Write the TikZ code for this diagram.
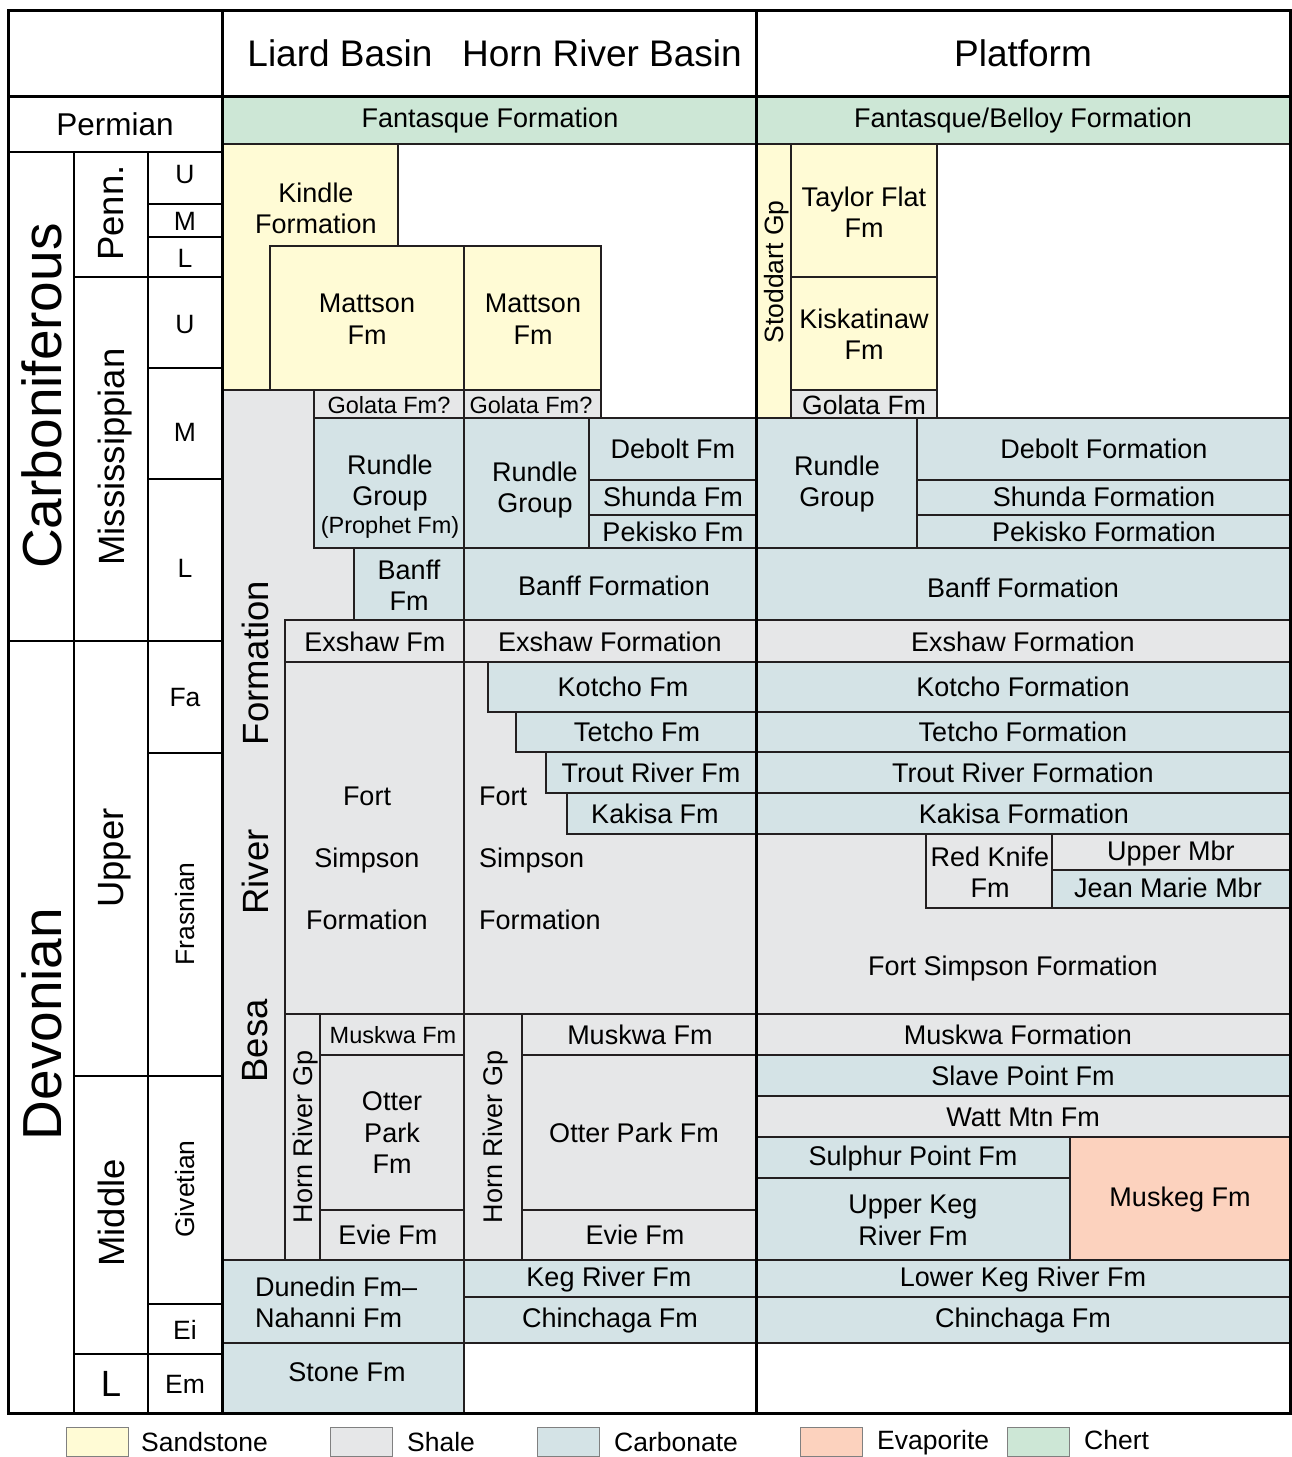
\documentclass[tikz,border=0pt]{standalone}
\usepackage{fontspec}
\setmainfont{Liberation Sans}
\definecolor{sandclr}{HTML}{FFFBD5}
\definecolor{shaleclr}{HTML}{E6E7E8}
\definecolor{carbclr}{HTML}{D4E3E6}
\definecolor{evapclr}{HTML}{FCD2BE}
\definecolor{chertclr}{HTML}{CDE7D6}
\definecolor{lineclr}{HTML}{231F20}

\begin{document}
\begin{tikzpicture}[x=1pt,y=-1pt]
  \tikzset{
  unit/.style={draw=lineclr,line width=1.5pt},
  sand/.style={unit,fill=sandclr},
  shale/.style={unit,fill=shaleclr},
  carb/.style={unit,fill=carbclr},
  evap/.style={unit,fill=evapclr},
  chert/.style={unit,fill=chertclr},
  rule/.style={line width=2pt},
  frame/.style={line width=3pt},
  lab/.style={font=\fontsize{27}{31.5}\selectfont,align=center,inner sep=0pt,text depth=0pt},
  tiny/.style={font=\fontsize{23.5}{28}\selectfont,inner sep=0pt,text depth=0pt},
  head/.style={font=\fontsize{37}{44}\selectfont,inner sep=0pt,text depth=0pt},
  era/.style={font=\fontsize{55}{60}\selectfont,rotate=90,inner sep=0pt,text depth=0pt},
  epoch/.style={font=\fontsize{36.5}{40}\selectfont,inner sep=0pt,text depth=0pt},
  stage/.style={font=\fontsize{26.5}{30}\selectfont,inner sep=0pt,text depth=0pt},
  key/.style={draw=gray,line width=1pt},
  }
  \useasboundingbox[fill=white] (0,0) rectangle (1291,1457);

  % header
  \node[head] (liard) at (340,53) {Liard Basin};
  \node[head] (hornriver) at (602,53) {Horn River Basin};
  \node[head] (platform) at (1023,53) {Platform};

  % chert at the top
  \draw[chert] (222,96) rectangle (756,144);
  \draw[chert] (756,96) rectangle (1290,144);
  \node[lab] (fantasque) at (490,118) {Fantasque Formation};
  \node[lab] (belloy) at (1023,118) {Fantasque/Belloy Formation};

  % Liard Basin
  \draw[sand] (222,144) -- (398,144) -- (398,246) -- (270,246) -- (270,390) -- (222,390) -- cycle;
  \draw[sand] (270,246) rectangle (464,390);
  \draw[shale] (222,390) -- (314,390) -- (314,548) -- (354,548) -- (354,620) -- (285,620) -- (285,1260) -- (222,1260) -- cycle;
  \draw[shale] (314,390) rectangle (464,418);
  \draw[carb] (314,418) rectangle (464,548);
  \draw[carb] (354,548) rectangle (464,620);
  \draw[shale] (285,620) rectangle (464,662);
  \draw[shale] (285,662) rectangle (464,1014);
  \draw[shale] (285,1014) rectangle (320,1260);
  \draw[shale] (320,1014) rectangle (464,1055);
  \draw[shale] (320,1055) rectangle (464,1210);
  \draw[shale] (320,1210) rectangle (464,1260);
  \draw[carb] (222,1260) rectangle (464,1343);
  \draw[carb] (222,1343) rectangle (464,1413);

  \node[lab] (kindle) at (316,208) {Kindle\\Formation};
  \node[lab] (mattsonL) at (367,319) {Mattson\\Fm};
  \node[tiny] (golataL) at (389,405) {Golata Fm?};
  \node[lab] (rundleL) at (390,480) {Rundle\\Group};
  \node[tiny] (prophet) at (390,525) {(Prophet Fm)};
  \node[lab] (banffL) at (409,585) {Banff\\Fm};
  \node[lab] (exshawL) at (375,642) {Exshaw Fm};
  \node[lab,font=\fontsize{27}{62}\selectfont] (simpsonL) at (367,858) {Fort\\Simpson\\Formation};
  \node[epoch,rotate=90] (besaC) at (255,663) {Formation};
  \node[epoch,rotate=90] (besaB) at (255,872) {River};
  \node[epoch,rotate=90] (besaA) at (255,1041) {Besa};
  \node[lab,rotate=90] (hrgL) at (303,1137) {Horn River Gp};
  \node[tiny] (muskwaL) at (393,1035) {Muskwa Fm};
  \node[lab] (otterL) at (392,1133) {Otter\\Park\\Fm};
  \node[lab] (evieL) at (388,1235) {Evie Fm};
  \node[lab,align=left,anchor=west] (dunedin) at (255,1302) {Dunedin Fm--\\Nahanni Fm};
  \node[lab] (stone) at (347,1372) {Stone Fm};

  % Horn River Basin
  \draw[sand] (464,246) rectangle (601,390);
  \draw[shale] (464,390) rectangle (601,418);
  \draw[carb] (464,418) rectangle (589,548);
  \draw[carb] (589,418) rectangle (756,480);
  \draw[carb] (589,480) rectangle (756,515);
  \draw[carb] (589,515) rectangle (756,548);
  \draw[carb] (464,548) rectangle (756,620);
  \draw[shale] (464,620) rectangle (756,662);
  \draw[shale] (464,662) rectangle (756,1014);
  \draw[carb] (488,662) rectangle (756,712);
  \draw[carb] (516,712) rectangle (756,752);
  \draw[carb] (546,752) rectangle (756,793);
  \draw[carb] (567,793) rectangle (756,834);
  \draw[shale] (464,1014) rectangle (522,1260);
  \draw[shale] (522,1014) rectangle (756,1055);
  \draw[shale] (522,1055) rectangle (756,1210);
  \draw[shale] (522,1210) rectangle (756,1260);
  \draw[carb] (464,1260) rectangle (756,1297);
  \draw[carb] (464,1297) rectangle (756,1343);

  \node[lab] (mattsonH) at (533,319) {Mattson\\Fm};
  \node[tiny] (golataH) at (531,405) {Golata Fm?};
  \node[lab] (rundleH) at (535,487) {Rundle\\Group};
  \node[lab] (deboltH) at (673,449) {Debolt Fm};
  \node[lab] (shundaH) at (673,497) {Shunda Fm};
  \node[lab] (pekiskoH) at (673,532) {Pekisko Fm};
  \node[lab] (banffH) at (614,586) {Banff Formation};
  \node[lab] (exshawH) at (610,642) {Exshaw Formation};
  \node[lab] (kotchoH) at (623,687) {Kotcho Fm};
  \node[lab] (tetchoH) at (637,732) {Tetcho Fm};
  \node[lab] (troutH) at (651,773) {Trout River Fm};
  \node[lab] (kakisaH) at (655,814) {Kakisa Fm};
  \node[lab,font=\fontsize{27}{62}\selectfont,align=left,anchor=west] (simpsonH) at (479,858) {Fort\\Simpson\\Formation};
  \node[lab,rotate=90] (hrgH) at (493,1137) {Horn River Gp};
  \node[lab] (muskwaH) at (640,1035) {Muskwa Fm};
  \node[lab] (otterH) at (634,1133) {Otter Park Fm};
  \node[lab] (evieH) at (635,1235) {Evie Fm};
  \node[lab] (kegH) at (609,1277) {Keg River Fm};
  \node[lab] (chinH) at (610,1318) {Chinchaga Fm};

  % Platform
  \draw[sand] (756,144) rectangle (791,418);
  \draw[sand] (791,144) rectangle (937,277);
  \draw[sand] (791,277) rectangle (937,390);
  \draw[shale] (791,390) rectangle (937,418);
  \draw[carb] (756,418) rectangle (917,548);
  \draw[carb] (917,418) rectangle (1290,480);
  \draw[carb] (917,480) rectangle (1290,515);
  \draw[carb] (917,515) rectangle (1290,548);
  \draw[carb] (756,548) rectangle (1290,620);
  \draw[shale] (756,620) rectangle (1290,662);
  \draw[carb] (756,662) rectangle (1290,712);
  \draw[carb] (756,712) rectangle (1290,752);
  \draw[carb] (756,752) rectangle (1290,793);
  \draw[carb] (756,793) rectangle (1290,834);
  \draw[shale] (756,834) rectangle (1290,1014);
  \draw[shale] (926,834) rectangle (1052,908);
  \draw[shale] (1052,834) rectangle (1290,870);
  \draw[carb] (1052,870) rectangle (1290,908);
  \draw[shale] (756,1014) rectangle (1290,1055);
  \draw[carb] (756,1055) rectangle (1290,1096);
  \draw[shale] (756,1096) rectangle (1290,1137);
  \draw[carb] (756,1137) rectangle (1070,1178);
  \draw[carb] (756,1178) rectangle (1070,1260);
  \draw[evap] (1070,1137) rectangle (1290,1260);
  \draw[carb] (756,1260) rectangle (1290,1297);
  \draw[carb] (756,1297) rectangle (1290,1343);

  \node[stage,rotate=90] (stoddart) at (774,272) {Stoddart Gp};
  \node[lab] (taylor) at (864,212) {Taylor Flat\\Fm};
  \node[lab] (kiska) at (864,334) {Kiskatinaw\\Fm};
  \node[stage] (golataP) at (864,405) {Golata Fm};
  \node[lab] (rundleP) at (837,481) {Rundle\\Group};
  \node[lab] (deboltP) at (1104,449) {Debolt Formation};
  \node[lab] (shundaP) at (1104,497) {Shunda Formation};
  \node[lab] (pekiskoP) at (1104,532) {Pekisko Formation};
  \node[lab] (banffP) at (1023,588) {Banff Formation};
  \node[lab] (exshawP) at (1023,642) {Exshaw Formation};
  \node[lab] (kotchoP) at (1023,687) {Kotcho Formation};
  \node[lab] (tetchoP) at (1023,732) {Tetcho Formation};
  \node[lab] (troutP) at (1023,773) {Trout River Formation};
  \node[lab] (kakisaP) at (1024,814) {Kakisa Formation};
  \node[lab] (redknife) at (990,872) {Red Knife\\Fm};
  \node[lab] (uppermbr) at (1171,851) {Upper Mbr};
  \node[lab] (jeanmarie) at (1168,888) {Jean Marie Mbr};
  \node[lab] (simpsonP) at (1013,966) {Fort Simpson Formation};
  \node[lab] (muskwaP) at (1018,1035) {Muskwa Formation};
  \node[lab] (slave) at (1023,1076) {Slave Point Fm};
  \node[lab] (watt) at (1023,1117) {Watt Mtn Fm};
  \node[lab] (sulphur) at (913,1156) {Sulphur Point Fm};
  \node[lab] (upperkeg) at (913,1220) {Upper Keg\\River Fm};
  \node[lab] (muskeg) at (1180,1197) {Muskeg Fm};
  \node[lab] (lowerkeg) at (1023,1277) {Lower Keg River Fm};
  \node[lab] (chinP) at (1023,1318) {Chinchaga Fm};

  % time scale
  \draw[rule] (8,152) -- (222,152);
  \draw[rule] (74,152) -- (74,1413);
  \draw[rule] (148,152) -- (148,1413);
  \draw[rule] (8,641) -- (222,641);
  \draw[rule] (74,277) -- (222,277);
  \draw[rule] (74,1076) -- (222,1076);
  \draw[rule] (74,1354) -- (222,1354);
  \foreach \y in {204,237,368,479,753,1304}
    \draw[rule] (148,\y) -- (222,\y);

  \node[font=\fontsize{31.5}{36}\selectfont,inner sep=0pt,text depth=0pt] (permian) at (115,124) {Permian};
  \node[era] (carbon) at (42,396) {Carboniferous};
  \node[era] (devon) at (42,1024) {Devonian};
  \node[epoch,rotate=90] (penn) at (111,213) {Penn.};
  \node[epoch,rotate=90] (miss) at (111,457) {Mississippian};
  \node[epoch,rotate=90] (upper) at (111,858) {Upper};
  \node[epoch,rotate=90] (middle) at (111,1213) {Middle};
  \node[epoch] (lower) at (111,1384) {L};
  \node[stage] (pU) at (185,174) {U};
  \node[stage] (pM) at (185,221) {M};
  \node[stage] (pL) at (185,258) {L};
  \node[stage] (mU) at (185,324) {U};
  \node[stage] (mM) at (185,432) {M};
  \node[stage] (mL) at (185,568) {L};
  \node[stage] (fa) at (185,697) {Fa};
  \node[stage,rotate=90] (frasnian) at (185,914) {Frasnian};
  \node[stage,rotate=90] (givetian) at (185,1189) {Givetian};
  \node[stage] (ei) at (185,1330) {Ei};
  \node[stage] (em) at (185,1384) {Em};

  % the frame
  \draw[frame] (8,10) rectangle (1290,1413);
  \draw[frame] (8,96) -- (1290,96);
  \draw[frame] (222,10) -- (222,1413);
  \draw[frame] (756,10) -- (756,1413);

  % legend
  \draw[key,fill=sandclr] (66,1427) rectangle (128,1456);
  \draw[key,fill=shaleclr] (330,1427) rectangle (392,1456);
  \draw[key,fill=carbclr] (537,1427) rectangle (599,1456);
  \draw[key,fill=evapclr] (800,1427) rectangle (862,1456);
  \draw[key,fill=chertclr] (1007,1427) rectangle (1069,1456);
  \node[stage,anchor=west] (ksand) at (141,1442) {Sandstone};
  \node[stage,anchor=west] (kshale) at (407,1442) {Shale};
  \node[stage,anchor=west] (kcarb) at (614,1442) {Carbonate};
  \node[stage,anchor=west] (kevap) at (877,1440) {Evaporite};
  \node[stage,anchor=west] (kchert) at (1084,1440) {Chert};
\end{tikzpicture}
\end{document}
